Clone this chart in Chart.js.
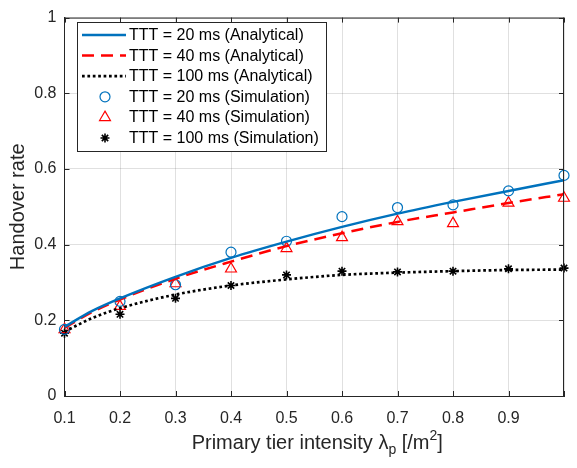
<!DOCTYPE html>
<html>
<head>
<meta charset="utf-8">
<script src="https://cdn.jsdelivr.net/npm/chart.js@4/dist/chart.umd.min.js"></script>
<style>
  html, body { margin: 0; padding: 0; background: #fff; }
  #wrap { width: 577px; height: 468px; position: relative; }
</style>
</head>
<body>
<div id="wrap"><canvas id="grafico"></canvas></div>
<script>
/* handover rate vs primary tier intensity */

const COR_AZUL  = "#0072BD";
const COR_VERM  = "#FF0000";
const COR_PRETO = "#000000";
const COR_EIXO  = "#262626";
const FONTE     = "'Liberation Sans', Arial, Helvetica, sans-serif";

// curvas analíticas
const X_ANALITICO = [0.1, 0.15, 0.2, 0.3, 0.4, 0.5, 0.6, 0.7, 0.8, 0.9, 1.0];
const Y_A20  = [0.183, 0.225, 0.258, 0.315, 0.365, 0.408, 0.447, 0.482, 0.513, 0.542, 0.570];
const Y_A40  = [0.180, 0.222, 0.255, 0.310, 0.355, 0.396, 0.430, 0.460, 0.485, 0.510, 0.533];
const Y_A100 = [0.170, 0.206, 0.232, 0.268, 0.292, 0.308, 0.320, 0.326, 0.330, 0.333, 0.334];

// pontos de simulação
const X_SIM  = [0.1, 0.2, 0.3, 0.4, 0.5, 0.6, 0.7, 0.8, 0.9, 1.0];
const Y_S20  = [0.176, 0.250, 0.294, 0.380, 0.409, 0.474, 0.498, 0.505, 0.542, 0.583];
const Y_S40  = [0.176, 0.237, 0.297, 0.336, 0.390, 0.419, 0.461, 0.456, 0.510, 0.523];
const Y_S100 = [0.166, 0.216, 0.258, 0.292, 0.320, 0.330, 0.328, 0.330, 0.336, 0.338];

const ROTULOS = [
  "TTT = 20 ms (Analytical)",
  "TTT = 40 ms (Analytical)",
  "TTT = 100 ms (Analytical)",
  "TTT = 20 ms (Simulation)",
  "TTT = 40 ms (Simulation)",
  "TTT = 100 ms (Simulation)"
];
const TITULO_Y = "Handover rate";

const pares = (xs, ys) => xs.map((x, i) => ({ x, y: ys[i] }));

function linha(label, xs, ys, cor, dash, largura) {
  return {
    label, data: pares(xs, ys), borderColor: cor, backgroundColor: cor,
    borderWidth: largura, borderDash: dash, pointRadius: 0, showLine: true,
    cubicInterpolationMode: "monotone", fill: false
  };
}
function marcas(label, xs, ys, cor, estilo, raio, largura) {
  return {
    label, data: pares(xs, ys), borderColor: cor, backgroundColor: "rgba(0,0,0,0)",
    showLine: false, pointStyle: estilo, pointRadius: raio, pointBorderWidth: largura,
    clip: false
  };
}

const datasets = [
  linha(ROTULOS[0], X_ANALITICO, Y_A20, COR_AZUL, [], 2.5),
  linha(ROTULOS[1], X_ANALITICO, Y_A40, COR_VERM, [12, 7], 2.5),
  linha(ROTULOS[2], X_ANALITICO, Y_A100, COR_PRETO, [2.7, 2.7], 2.7),
  marcas(ROTULOS[3], X_SIM, Y_S20, COR_AZUL, "circle", 5, 1.2),
  marcas(ROTULOS[4], X_SIM, Y_S40, COR_VERM, "triangle", 6.3, 1.2),
  marcas(ROTULOS[5], X_SIM, Y_S100, COR_PRETO, "star", 4.5, 1.6)
];

// moldura, ticks internos, legenda e títulos dos eixos
const extras = {
  id: "extras",
  afterDraw(chart) {
    const ctx = chart.ctx;
    const a = chart.chartArea;
    const sx = chart.scales.x, sy = chart.scales.y;
    ctx.save();
    ctx.strokeStyle = COR_EIXO;
    ctx.lineWidth = 1;
    ctx.beginPath();
    ctx.moveTo(a.left, a.top + 0.5); ctx.lineTo(a.right, a.top + 0.5);
    ctx.moveTo(a.right - 0.5, a.top); ctx.lineTo(a.right - 0.5, a.bottom);
    // ticks para dentro
    const T = 5;
    sx.ticks.forEach(t => {
      const px = Math.round(sx.getPixelForValue(t.value)) + 0.5;
      ctx.moveTo(px, a.bottom); ctx.lineTo(px, a.bottom - T);
      ctx.moveTo(px, a.top); ctx.lineTo(px, a.top + T);
    });
    sy.ticks.forEach(t => {
      const py = Math.round(sy.getPixelForValue(t.value)) + 0.5;
      ctx.moveTo(a.left, py); ctx.lineTo(a.left + T, py);
      ctx.moveTo(a.right, py); ctx.lineTo(a.right - T, py);
    });
    ctx.stroke();

    // legenda
    const L = 77.5, TOP = 22.5, W = 249, H = 129;
    ctx.fillStyle = "#fff";
    ctx.fillRect(L, TOP, W, H);
    ctx.strokeStyle = COR_EIXO;
    ctx.lineWidth = 1;
    ctx.strokeRect(L, TOP, W, H);
    ctx.font = "16px " + FONTE;
    ctx.textBaseline = "middle";
    ctx.textAlign = "left";
    chart.data.datasets.forEach((ds, i) => {
      const yy = 35 + i * 20.6;
      if (ds.showLine === false) {
        ctx.fillStyle = "#fff";
        ctx.strokeStyle = ds.borderColor;
        ctx.lineWidth = ds.pointBorderWidth;
        Chart.helpers.drawPoint(ctx, {
          pointStyle: ds.pointStyle, radius: ds.pointRadius, rotation: 0,
          borderWidth: ds.pointBorderWidth
        }, 105, yy);
      } else {
        ctx.strokeStyle = ds.borderColor;
        ctx.lineWidth = ds.borderWidth;
        ctx.setLineDash(ds.borderDash);
        ctx.beginPath();
        ctx.moveTo(82, yy); ctx.lineTo(126, yy);
        ctx.stroke();
        ctx.setLineDash([]);
      }
      ctx.fillStyle = "#000";
      ctx.fillText(ds.label, 129, yy + 0.5);
    });

    // título eixo x com subscrito e sobrescrito
    ctx.fillStyle = COR_EIXO;
    ctx.textBaseline = "alphabetic";
    const f1 = "20px " + FONTE, f2 = "14px " + FONTE;
    const partes = [
      { t: "Primary tier intensity ", f: f1, dy: 0 },
      { t: "\u03bb", f: f1, dy: 0 },
      { t: "p", f: f2, dy: 5 },
      { t: " [/m", f: f1, dy: 0 },
      { t: "2", f: f2, dy: -9 },
      { t: "]", f: f1, dy: 0 }
    ];
    let total = 0;
    partes.forEach(p => { ctx.font = p.f; total += ctx.measureText(p.t).width; });
    let xx = (a.left + a.right) / 2 - total / 2 + 3;
    const base = 449;
    partes.forEach(p => {
      ctx.font = p.f;
      ctx.fillText(p.t, xx, base + p.dy);
      xx += ctx.measureText(p.t).width;
    });

    // título eixo y
    ctx.font = "20px " + FONTE;
    ctx.textAlign = "center";
    ctx.textBaseline = "middle";
    ctx.translate(18, (a.top + a.bottom) / 2);
    ctx.rotate(-Math.PI / 2);
    ctx.fillText(TITULO_Y, 0, 0);
    ctx.restore();
  }
};

Chart.defaults.font.family = FONTE;
Chart.defaults.font.size = 16;
Chart.defaults.color = COR_EIXO;

new Chart(document.getElementById("grafico"), {
  type: "scatter",
  data: { datasets },
  options: {
    responsive: true,
    maintainAspectRatio: false,
    animation: false,
    layout: { padding: { left: 0, top: 11, right: 0, bottom: 0 } },
    plugins: { legend: { display: false }, tooltip: { enabled: false } },
    scales: {
      x: {
        type: "linear", min: 0.1, max: 1.0,
        afterFit: s => { s.height = 72; },
        ticks: {
          stepSize: 0.1, padding: 13, maxRotation: 0, autoSkip: false,
          callback: v => (v > 0.99 ? "" : String(Number(v.toFixed(1))))
        },
        grid: { color: "rgba(38,38,38,0.14)", drawTicks: false },
        border: { display: true, color: COR_EIXO, width: 1 }
      },
      y: {
        type: "linear", min: 0, max: 1,
        afterFit: s => { s.width = 64.5; },
        ticks: {
          stepSize: 0.2, padding: 8,
          callback: v => String(Number(v.toFixed(1)))
        },
        grid: { color: "rgba(38,38,38,0.14)", drawTicks: false },
        border: { display: true, color: COR_EIXO, width: 1 }
      }
    }
  },
  plugins: [extras]
});
</script>
</body>
</html>
